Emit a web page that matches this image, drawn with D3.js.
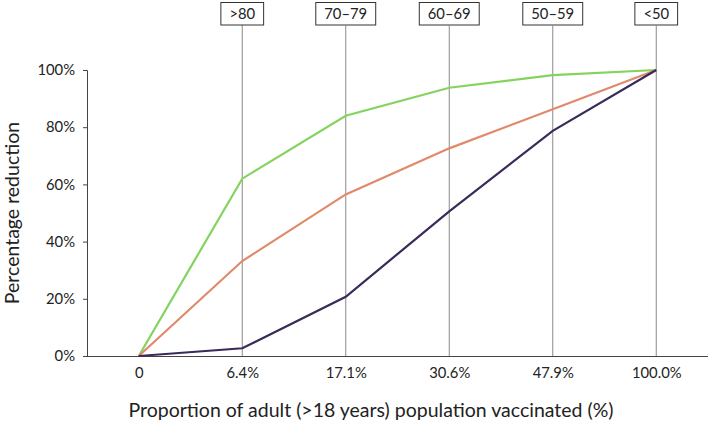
<!DOCTYPE html>
<html><head><meta charset="utf-8">
<script src="https://cdn.jsdelivr.net/npm/d3@7"></script>
<style>body{margin:0;background:#fff}svg{display:block}text{font-family:Lato,"Open Sans",sans-serif;fill:#222}</style>
</head><body><svg id="c" width="709" height="422"></svg>
<script>
const categories = ["0","6.4%","17.1%","30.6%","47.9%","100.0%"];
const ageGroups = [null, ">80","70–79","60–69","50–59","<50"];
const greenSeries = [0, 62, 84, 93.8, 98.2, 100];
const orangeSeries = [0, 33.2, 56.5, 72.6, 86.3, 100];
const purpleSeries = [0, 2.7, 20.7, 50.6, 78.7, 100];
const yTicks = [0,20,40,60,80,100];

const svg = d3.select("#c");
const x = d3.scalePoint().domain(categories).range([87,708]).padding(0.5);
const y = d3.scaleLinear().domain([0,100]).range([356,70]);

categories.forEach((c,i)=>{
  if(!ageGroups[i]) return;
  const cx = x(c);
  svg.append("line").attr("x1",cx).attr("x2",cx).attr("y1",25).attr("y2",356)
    .attr("stroke","#8a8a8a").attr("stroke-width",1);
  const t = svg.append("text").attr("x",cx).attr("y",19).attr("text-anchor","middle")
    .attr("font-size",14.8).text(ageGroups[i]);
  const w = t.node().getComputedTextLength()+17;
  svg.insert("rect","text").attr("x",cx-w/2).attr("y",2.5).attr("width",w).attr("height",22.5)
    .attr("fill","#fff").attr("stroke","#333").attr("stroke-width",1);
});

const ya = svg.append("g").attr("transform","translate(87,0)")
  .call(d3.axisLeft(y).tickValues(yTicks).tickFormat(d=>d+"%").tickSize(4).tickPadding(8));
ya.select(".domain").attr("stroke","#444");
ya.selectAll(".tick line").attr("stroke","#444");
ya.selectAll("text").attr("font-size",14.8).attr("font-family","Lato,sans-serif").attr("fill","#222");

const xa = svg.append("g").attr("transform","translate(0,356)")
  .call(d3.axisBottom(x).tickSize(0).tickPadding(11));
xa.select(".domain").attr("stroke","#444").attr("d","M84,0.5H708");
xa.selectAll("text").attr("font-size",14.8).attr("font-family","Lato,sans-serif").attr("fill","#222");

const line = d3.line().x((d,i)=>x(categories[i])).y(d=>y(d));
[[greenSeries,"#84d35f"],[orangeSeries,"#e0896b"],[purpleSeries,"#3a2a5a"]].forEach(([s,col])=>{
  svg.append("path").datum(s).attr("d",line).attr("fill","none").attr("stroke",col).attr("stroke-width",2.2);
});

svg.append("text").attr("transform","translate(19,213) rotate(-90)").attr("text-anchor","middle")
  .attr("font-size",19.5).text("Percentage reduction");
svg.append("text").attr("x",371).attr("y",417).attr("text-anchor","middle")
  .attr("font-size",19.5).text("Proportion of adult (>18 years) population vaccinated (%)");
</script></body></html>
